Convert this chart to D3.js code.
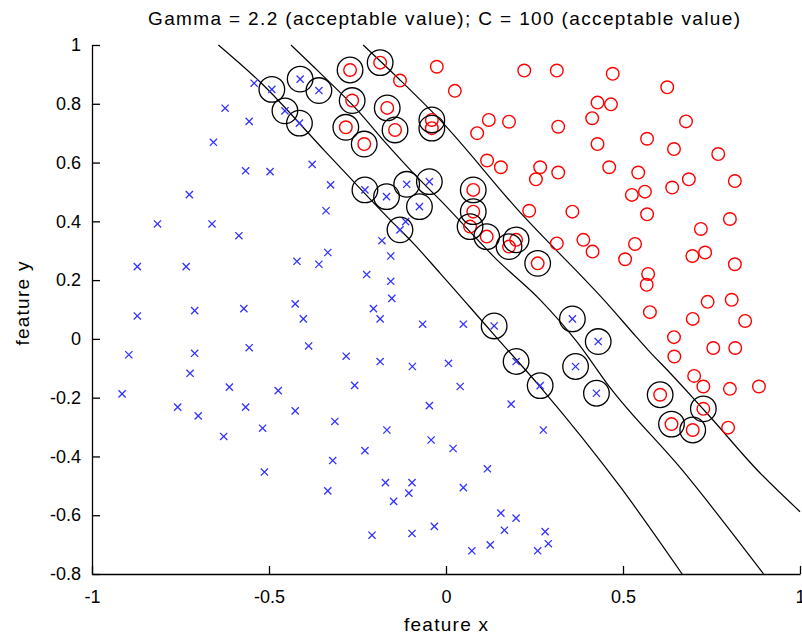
<!DOCTYPE html>
<html>
<head>
<meta charset="utf-8">
<script src="https://cdn.jsdelivr.net/npm/d3@7/dist/d3.min.js"></script>
<style>
body { margin: 0; background: #fff; }
text { font-family: Arial, "Liberation Sans", sans-serif; }
</style>
</head>
<body>
<svg id="chart" width="802" height="634"></svg>
<script>
// negative class (blue crosses)
const classNeg = [
  [-0.542,0.870],[-0.624,0.785],[-0.556,0.740],[-0.657,0.669],[-0.566,0.572],[-0.497,0.569],
  [-0.725,0.491],[-0.378,0.594],[-0.326,0.524],[-0.339,0.436],[-0.815,0.391],[-0.661,0.391],
  [-0.585,0.351],[-0.872,0.246],[-0.734,0.246],[-0.872,0.078],[-0.710,0.096],[-0.571,0.103],
  [-0.896,-0.054],[-0.710,-0.049],[-0.556,-0.030],[-0.723,-0.117],[-0.612,-0.164],[-0.915,-0.187],
  [-0.758,-0.232],[-0.700,-0.262],[-0.566,-0.232],[-0.518,-0.304],[-0.628,-0.332],[-0.513,-0.453],
  [-0.181,0.334],[-0.156,0.282],[-0.334,0.294],[-0.421,0.264],[-0.359,0.254],[-0.224,0.219],
  [-0.156,0.196],[-0.153,0.138],[-0.426,0.119],[-0.403,0.068],[-0.205,0.103],[-0.186,0.068],
  [-0.066,0.050],[-0.388,-0.024],[-0.282,-0.059],[-0.186,-0.077],[-0.095,-0.094],[-0.258,-0.158],
  [-0.474,-0.176],[-0.426,-0.245],[-0.314,-0.281],[-0.167,-0.310],[-0.047,-0.227],[-0.042,-0.344],
  [-0.229,-0.380],[-0.320,-0.414],[-0.334,-0.517],[-0.171,-0.489],[-0.096,-0.489],[-0.105,-0.525],
  [-0.148,-0.553],[-0.209,-0.668],[-0.096,-0.662],[-0.033,-0.638],[0.184,-0.222],[0.020,-0.373],
  [0.275,-0.310],[0.117,-0.442],[0.049,-0.506],[0.155,-0.593],[0.198,-0.610],[0.165,-0.651],
  [0.280,-0.656],[0.289,-0.697],[0.259,-0.721],[0.125,-0.701],[0.073,-0.721],[0.049,0.050],
  [0.007,-0.083],[0.040,-0.162],[-0.114,0.399],
  [-0.492,0.849],[-0.412,0.884],[-0.359,0.845],[-0.455,0.776],[-0.414,0.734],[-0.229,0.507],
  [-0.168,0.484],[-0.111,0.526],[-0.047,0.535],[-0.075,0.450],[-0.130,0.371],[0.136,0.044],
  [0.198,-0.077],[0.266,-0.159],[0.357,0.068],[0.430,-0.009],[0.366,-0.094],[0.425,-0.185]
];

// positive class (red circles)
const classPos = [
  [-0.130,0.879],[-0.026,0.926],[0.025,0.844],[0.221,0.913],[0.313,0.913],[0.471,0.902],
  [0.428,0.804],[0.466,0.798],[0.413,0.751],[0.121,0.745],[0.178,0.739],[0.088,0.700],
  [0.317,0.722],[0.428,0.663],[0.116,0.607],[0.155,0.584],[0.266,0.584],[0.254,0.543],
  [0.317,0.566],[0.461,0.584],[0.235,0.436],[0.357,0.433],[0.625,0.856],[0.678,0.740],
  [0.568,0.681],[0.644,0.646],[0.769,0.629],[0.543,0.566],[0.686,0.543],[0.639,0.515],
  [0.816,0.537],[0.525,0.490],[0.562,0.501],[0.568,0.424],[0.802,0.408],[0.720,0.374],
  [0.534,0.323],[0.506,0.271],[0.696,0.282],[0.732,0.294],[0.816,0.254],[0.571,0.221],
  [0.567,0.184],[0.576,0.091],[0.739,0.126],[0.807,0.133],[0.697,0.068],[0.845,0.061],
  [0.644,0.006],[0.645,-0.060],[0.755,-0.031],[0.817,-0.031],[0.701,-0.126],[0.727,-0.162],
  [0.802,-0.170],[0.884,-0.162],[0.797,-0.302],[0.313,0.325],[0.388,0.337],[0.414,0.297],
  [-0.271,0.915],[-0.186,0.940],[-0.265,0.811],[-0.166,0.786],[-0.283,0.720],[-0.144,0.711],
  [-0.231,0.663],[-0.040,0.745],[-0.040,0.717],[0.077,0.507],[0.077,0.433],[0.068,0.382],
  [0.115,0.348],[0.178,0.314],[0.198,0.337],[0.259,0.257],[0.605,-0.190],[0.727,-0.238],
  [0.637,-0.290],[0.697,-0.310]
];

// support vectors (black rings)
const supportVectors = [
  [-0.492,0.849],[-0.412,0.884],[-0.359,0.845],[-0.455,0.776],[-0.414,0.734],[-0.229,0.507],
  [-0.168,0.484],[-0.111,0.526],[-0.047,0.535],[-0.075,0.450],[-0.130,0.371],[0.136,0.044],
  [0.198,-0.077],[0.266,-0.159],[0.357,0.068],[0.430,-0.009],[0.366,-0.094],[0.425,-0.185],
  [-0.271,0.915],[-0.186,0.940],[-0.265,0.811],[-0.166,0.786],[-0.283,0.720],[-0.144,0.711],
  [-0.231,0.663],[-0.040,0.745],[-0.040,0.717],[0.077,0.507],[0.077,0.433],[0.068,0.382],
  [0.115,0.348],[0.178,0.314],[0.198,0.337],[0.259,0.257],[0.605,-0.190],[0.727,-0.238],
  [0.637,-0.290],[0.697,-0.310]
];

// decision contours (margin -1, boundary 0, margin +1)
const contourLow = [
  [-0.643,1.0],[-0.525,0.874],[-0.342,0.639],[-0.158,0.405],[-0.096,0.330],[-0.017,0.224],
  [0.136,0.014],[0.266,-0.163],[0.492,-0.503],[0.667,-0.8]
];
const contourMid = [
  [-0.438,1.0],[-0.356,0.905],[-0.251,0.779],[-0.178,0.677],[-0.093,0.565],[-0.017,0.473],
  [0.144,0.269],[0.266,0.133],[0.370,-0.010],[0.463,-0.165],[0.667,-0.446],[0.897,-0.8]
];
const contourHigh = [
  [-0.234,1.0],[-0.130,0.881],[-0.017,0.745],[0.203,0.439],[0.463,0.110],[0.528,0.020],
  [0.571,-0.038],[0.633,-0.116],[0.695,-0.197],[0.746,-0.265],[0.879,-0.446],[1.0,-0.588]
];

const xTicks = [-1, -0.5, 0, 0.5, 1];
const yTicks = [-0.8, -0.6, -0.4, -0.2, 0, 0.2, 0.4, 0.6, 0.8, 1];

const titleText = "Gamma = 2.2 (acceptable value); C = 100 (acceptable value)";

const margin = {top: 45, right: 2, bottom: 60, left: 92};
const W = 802, H = 634;

const svg = d3.select("#chart");
svg.append("rect").attr("width", W).attr("height", H).attr("fill", "#fff");

const x = d3.scaleLinear().domain([-1, 1]).range([margin.left, W - margin.right]);
const y = d3.scaleLinear().domain([-0.8, 1]).range([H - margin.bottom, margin.top]);

const fmt = d => String(+d.toFixed(1));

// axes (ticks point inward, no box)
const gx = svg.append("g")
    .attr("transform", `translate(0,${H - margin.bottom})`)
    .call(d3.axisBottom(x).tickValues(xTicks).tickFormat(fmt).tickSizeInner(-8).tickSizeOuter(0).tickPadding(16));
const gy = svg.append("g")
    .attr("transform", `translate(${margin.left},0)`)
    .call(d3.axisLeft(y).tickValues(yTicks).tickFormat(fmt).tickSizeInner(-8).tickSizeOuter(0).tickPadding(11));

[gx, gy].forEach(g => {
    g.select(".domain").attr("stroke", "#000").attr("stroke-width", 1.3);
    g.selectAll(".tick line").attr("stroke", "#000").attr("stroke-width", 1.3);
    g.selectAll(".tick text").attr("fill", "#000").style("font-size", "18px");
});

// contours
const line = d3.line()
    .x(d => x(d[0]))
    .y(d => y(d[1]))
    .curve(d3.curveMonotoneX);

const plot = svg.append("g");
[contourLow, contourMid, contourHigh].forEach(c => {
    plot.append("path")
        .datum(c)
        .attr("d", line)
        .attr("fill", "none")
        .attr("stroke", "#000")
        .attr("stroke-width", 1.2);
});

// blue crosses
const s = 3.6;
plot.append("g").selectAll("path")
    .data(classNeg)
    .join("path")
    .attr("d", d => {
        const px = x(d[0]), py = y(d[1]);
        return `M${px - s},${py - s}L${px + s},${py + s}M${px - s},${py + s}L${px + s},${py - s}`;
    })
    .attr("stroke", "#3333ff")
    .attr("stroke-width", 1.3)
    .attr("fill", "none");

// red circles
plot.append("g").selectAll("circle")
    .data(classPos)
    .join("circle")
    .attr("cx", d => x(d[0]))
    .attr("cy", d => y(d[1]))
    .attr("r", 6.3)
    .attr("fill", "none")
    .attr("stroke", "#ff0000")
    .attr("stroke-width", 1.4);

// support vector rings
plot.append("g").selectAll("circle")
    .data(supportVectors)
    .join("circle")
    .attr("cx", d => x(d[0]))
    .attr("cy", d => y(d[1]))
    .attr("r", 12.8)
    .attr("fill", "none")
    .attr("stroke", "#000")
    .attr("stroke-width", 1.3);

// title and labels
svg.append("text")
    .attr("x", x(0) - 2)
    .attr("y", 25)
    .attr("text-anchor", "middle")
    .style("font-size", "19px")
    .attr("textLength", 592)
    .attr("lengthAdjust", "spacing")
    .text(titleText);

svg.append("text")
    .attr("x", x(0))
    .attr("y", 631)
    .attr("text-anchor", "middle")
    .style("font-size", "19px")
    .attr("textLength", 84)
    .attr("lengthAdjust", "spacing")
    .text("feature x");

svg.append("text")
    .attr("transform", `translate(29,${y(0.12)}) rotate(-90)`)
    .attr("text-anchor", "middle")
    .style("font-size", "19px")
    .attr("textLength", 84)
    .attr("lengthAdjust", "spacing")
    .text("feature y");
</script>
</body>
</html>
